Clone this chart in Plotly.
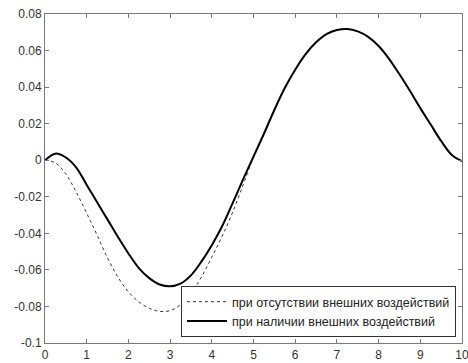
import plotly.graph_objects as go

x_vals = [0, 0.25, 0.5, 0.75, 1.0, 1.25, 1.5, 1.75, 2.0, 2.25, 2.5, 2.75, 3.0,
          3.25, 3.5, 3.75, 4.0, 4.25, 4.5, 4.75, 5.0, 5.25, 5.5, 5.75, 6.0,
          6.25, 6.5, 6.75, 7.0, 7.25, 7.5, 7.75, 8.0, 8.25, 8.5, 8.75, 9.0,
          9.25, 9.5, 9.75, 10.0]

# response without external influences (dashed)
y_without = [0.0, -0.0015, -0.0075, -0.0175, -0.029, -0.041, -0.0535, -0.064,
             -0.072, -0.0775, -0.081, -0.0827, -0.0823, -0.079, -0.0728, -0.064,
             -0.053, -0.0415, -0.0285, -0.0135, 0.0015, 0.0145, 0.0275, 0.0395,
             0.0495, 0.058, 0.0645, 0.069, 0.0712, 0.0718, 0.0705, 0.0675,
             0.0625, 0.0555, 0.047, 0.038, 0.0285, 0.0195, 0.0105, 0.003, -0.0005]

# response with external influences (solid)
y_with = [0.0, 0.0036, 0.0015, -0.004, -0.0135, -0.023, -0.0325, -0.042,
          -0.051, -0.059, -0.0645, -0.068, -0.069, -0.0675, -0.063, -0.0555,
          -0.0465, -0.036, -0.0235, -0.0105, 0.002, 0.0145, 0.0275, 0.0395,
          0.0495, 0.058, 0.0645, 0.069, 0.0712, 0.0718, 0.0705, 0.0675,
          0.0625, 0.0555, 0.047, 0.038, 0.0285, 0.0195, 0.0105, 0.003, -0.0005]

x_ticks = [0, 1, 2, 3, 4, 5, 6, 7, 8, 9, 10]
x_ticklabels = ["0", "1", "2", "3", "4", "5", "6", "7", "8", "9", "10"]
y_ticks = [-0.1, -0.08, -0.06, -0.04, -0.02, 0, 0.02, 0.04, 0.06, 0.08]
y_ticklabels = ["-0.1", "-0.08", "-0.06", "-0.04", "-0.02", "0", "0.02", "0.04", "0.06", "0.08"]

name_without = "при отсутствии внешних воздействий"
name_with = "при наличии внешних воздействий"

FONT = "Liberation Sans, Arial, sans-serif"

fig = go.Figure()
fig.add_trace(go.Scatter(x=x_vals, y=y_without, mode="lines", name=name_without,
                         line=dict(color="#333333", width=1, dash="3px,3px", shape="spline")))
fig.add_trace(go.Scatter(x=x_vals, y=y_with, mode="lines", name=name_with,
                         line=dict(color="#000000", width=2, shape="spline")))

axis_common = dict(showline=True, linecolor="#7a7a7a", linewidth=1, mirror="ticks",
                   ticks="inside", ticklen=4, tickcolor="#7a7a7a", showgrid=False,
                   zeroline=False, automargin=False, ticklabeloverflow="allow",
                   tickfont=dict(family=FONT, size=12, color="#333333"))

fig.update_xaxes(range=[0, 10], tickvals=x_ticks, ticktext=x_ticklabels,
                 ticklabelstandoff=1, **axis_common)
fig.update_yaxes(range=[-0.1, 0.08], tickvals=y_ticks, ticktext=y_ticklabels, **axis_common)

fig.update_layout(
    width=468, height=363,
    margin=dict(l=45, r=6, t=14, b=20),
    plot_bgcolor="white", paper_bgcolor="white",
    font=dict(family=FONT, size=12, color="#333333"),
    showlegend=True,
    legend=dict(x=0.9856, y=0.018, xanchor="right", yanchor="bottom",
                bgcolor="white", bordercolor="#333333", borderwidth=1,
                font=dict(family=FONT, size=12.5, color="#222222"),
                tracegroupgap=0, itemwidth=40),
)

fig.write_html("out.html", config={"displayModeBar": False},
               post_script="document.body.style.margin='0';document.body.style.overflow='hidden';")
